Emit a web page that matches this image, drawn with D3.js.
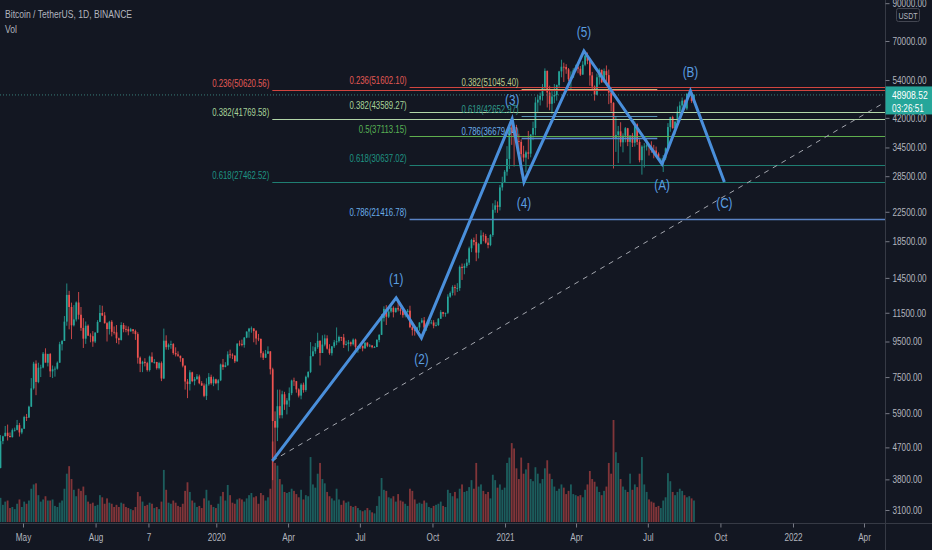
<!DOCTYPE html>
<html><head><meta charset="utf-8">
<script src="https://cdnjs.cloudflare.com/ajax/libs/d3/7.8.5/d3.min.js"></script>
<style>
html,body{margin:0;padding:0;background:#131722;overflow:hidden}
svg{display:block}
text{font-family:"Liberation Sans",Arial,sans-serif}
</style></head><body>
<svg id="c" width="932" height="550"></svg>
<script>
// ---------- DATA ----------
const startDate = "2019-04-01";   // first 3-day period
const stepDays = 3;
const firstOpen = 4100;
const closes = [
4900,5060,5180,5070,5030,5270,5280,5450,5190,5320,
5750,5730,6160,6960,8200,7260,7980,7990,8760,8250,8740,
7790,7900,7930,8250,9330,9530,10840,12950,11950,10580,
11000,12310,11350,10400,9680,10550,9880,9840,9500,10080,
10820,11480,11300,10730,10320,10830,10130,10100,9700,9600,
10600,10320,10310,10160,10310,10180,9980,8530,8190,8300,
8230,7860,8590,8270,8290,7960,8230,7430,9550,9150,9300,
9340,8800,8720,8640,8500,8090,7280,7160,7740,7300,
7400,7530,7200,7090,6620,7150,7510,7200,7390,7200,
7340,8150,8020,8110,8720,8700,8650,8330,9370,9350,
9290,9750,10150,10350,10360,10180,9690,9660,8790,8530,
8760,8900,7900,5600,5360,6180,5820,6690,6250,6420,
6740,7330,7300,6910,6630,7130,6880,7510,7760,8620,
8900,9150,9540,8800,9310,9700,9060,8790,9200,9450,9520,
9790,9760,9300,9340,9450,9330,9620,9170,9190,9230,
9080,9430,9240,9250,9150,9160,9600,9930,11100,11800,
11200,11600,11880,11550,11860,11760,11650,11320,11550,11660,
10450,10250,10220,10430,10780,10930,10420,10730,10770,10780,
10550,10600,11050,11550,11420,11500,12800,13120,13650,13550,13550,
15600,15480,15700,16050,17650,18650,18400,17150,18180,19220,
19150,18330,18040,19280,22800,23480,23240,26450,27380,29370,
31970,39400,38150,37350,36000,35800,33000,32250,33400,33100,
37600,39250,46500,47400,48600,51550,57400,49700,46100,48400,
48900,52200,57200,59000,58900,58000,54300,55000,57600,58800,
58200,56000,59800,63500,61400,55700,51700,49000,55000,57800,
53200,57300,55800,49700,46400,36700,37500,38400,35700,37300,
39200,35800,37400,35600,40200,35800,31700,34700,34700,35000,
34700,33900,33800,33100,31800,31800,32100,34300,39500,42200,39200,
40900,43800,45600,47100,44700,49300,49500,47000,48908.52];
const highs = [
5100,5080,5420,5470,5190,5330,5360,5640,5530,5340,
5800,5870,6200,7450,8300,8380,8250,8140,8860,9080,8760,
8800,8100,8050,8320,9480,9600,11250,13970,13300,12300,
12100,12400,13200,11950,11100,10850,10640,10030,10180,10100,
10950,12100,12050,11550,10800,10900,10950,10500,10600,9750,
10800,10750,10560,10500,10400,10300,10280,10100,8600,8360,
8500,8300,8650,8840,8450,8300,8300,8320,10350,9900,9380,
9550,9400,9140,8900,8650,8500,8100,7400,7850,7770,
7500,7650,7620,7300,7190,7440,7700,7620,7520,7420,
7400,8200,8460,8280,8900,9000,8780,8670,9380,9560,
9620,9790,10160,10400,10500,10380,10250,9990,9700,8900,
8980,9200,8900,7980,5970,6900,6900,6850,6800,6520,
7000,7370,7470,7310,6960,7200,7230,7570,7800,9460,
9200,9400,10070,9580,9900,9950,9900,9330,9210,9600,10430,
9880,9800,9990,9550,9600,9500,9700,9680,9200,9300,
9250,9450,9450,9340,9280,9220,9650,9970,11400,12000,
12100,11800,12050,12000,11900,12490,11900,11700,11560,11790,
12050,10650,10430,10480,10800,11100,11180,10750,10800,10960,
10950,10800,11100,11700,11570,11500,13000,13250,13800,13850,14000,
15750,15950,15950,16450,17850,18800,18950,19400,18300,19900,
19600,19420,18900,19400,23800,24300,24100,26900,28400,29700,
34800,40000,41950,38200,40100,37800,36400,34900,33800,38500,
37700,40950,48200,48900,49700,52600,58350,57500,52000,50200,
52600,52400,57400,61800,60600,60000,58500,57200,58400,59800,
60100,59300,61200,63800,64850,62500,57000,52100,56400,58400,
57900,58300,59500,57900,51400,46600,42500,39800,40800,37900,
39500,39300,36800,38000,41000,40500,36400,35000,35500,36600,
35000,35950,35100,34700,33400,32200,32800,34500,40550,42300,42600,
41200,45300,46800,48100,47400,49400,50500,49900,49200];
const lows = [
4090,4800,5060,4920,5030,5020,5220,5260,5050,5130,
5320,5600,5720,6150,6900,6650,7200,7500,7950,8400,8050,
7500,7450,7520,7880,8250,8950,9530,10550,10300,9650,
10500,10850,11000,10200,9100,9350,9850,9450,9170,9400,
10050,10800,11250,10700,9500,9950,9830,9950,9400,9320,
9560,10100,10100,9900,10150,10000,9600,8200,7750,7750,
8050,7780,7780,8280,8200,7880,7890,7300,7400,9000,8990,
9050,8700,8600,8580,8300,8000,6900,6520,6860,7250,
7100,7370,7150,7080,6560,6440,7080,7130,7060,7150,
6870,7300,7870,8000,8090,8500,8450,8230,8300,9210,
9200,9120,9710,9740,10070,9450,9300,9520,8540,8400,
8510,8760,7630,3780,4440,4900,5700,5700,6030,5850,
6150,6650,7070,6760,6550,6470,6760,6800,7440,7700,
8600,8750,9050,8100,8800,9200,9000,8700,8650,9100,9270,
9430,9530,9100,9250,8900,9200,9250,9000,8820,9040,
8900,9050,9150,9150,9080,9100,9150,9450,9920,10850,
10600,11100,11500,11150,11500,11600,11350,11130,11150,11500,
10380,9880,9880,10200,10200,10720,10300,10200,10550,10650,
10370,10500,10530,11050,11200,11200,11400,12700,12900,12900,13200,
13300,14300,14850,15500,15800,17200,18000,16200,16500,18100,
18500,18200,17650,17900,19050,22350,22350,22700,25900,27300,
28600,29900,35100,30400,35500,34000,28850,31400,29250,31900,
32300,36200,37400,43700,45600,47100,50800,45000,44200,43000,
46300,47100,51400,55000,53300,56300,53600,50400,54700,57000,
56500,55500,55900,59200,60000,52000,50800,47100,48800,52400,
53000,53100,53400,46000,43800,30000,33500,31100,34700,33400,
35700,34800,31000,34600,34700,35100,31250,28800,30200,33800,
32700,33300,32100,32700,31600,31000,29300,31700,34000,38300,39100,
37600,39900,42800,43800,44400,44200,48300,46400,46400];
const volumes = [
45,32,38,40,26,28,24,34,42,28,
38,34,40,62,70,72,50,38,42,48,40,
40,42,30,28,36,40,62,90,104,80,
60,48,62,58,66,50,38,34,36,30,
32,50,46,34,44,36,34,28,32,28,
36,34,28,26,24,22,28,56,48,38,
30,32,36,34,26,28,24,38,97,60,36,
34,40,36,30,28,34,58,74,56,40,
36,28,30,26,44,60,40,32,28,26,
34,48,56,40,69,50,36,34,42,44,
42,38,44,50,54,46,48,34,54,50,
40,46,62,150,110,105,80,70,56,54,
56,62,58,52,46,60,42,50,48,121,
70,64,90,110,80,72,56,48,44,40,62,
42,32,40,36,38,30,28,30,26,22,
20,22,26,22,18,16,30,48,82,60,
58,46,44,48,38,52,40,38,34,30,
62,58,42,34,36,34,40,36,28,26,
30,32,34,38,30,28,60,54,48,56,44,
62,70,56,58,65,78,62,110,66,70,
58,52,56,44,88,78,64,70,60,64,
110,120,147,137,100,80,120,90,98,110,
80,76,102,90,72,80,100,115,90,80,
66,58,62,70,64,52,58,70,52,50,
48,50,46,60,70,95,80,75,66,56,
50,58,66,110,90,190,130,110,80,66,
60,56,90,60,70,65,90,121,70,56,
42,38,36,28,30,26,40,46,91,76,56,
50,56,62,58,50,46,48,44,40];

const priceTicks = [90000,70000,54000,42000,34500,28500,22500,18500,14500,11500,9500,7500,5900,4700,3800,3100];
const timeTickDates = ["2019-05-01","2019-08-01","2019-10-07","2020-01-01","2020-04-01","2020-07-01","2020-10-01","2021-01-01","2021-04-01","2021-07-01","2021-10-01","2022-01-01","2022-04-01"];
const timeTickLabels = ["May","Aug","7","2020","Apr","Jul","Oct","2021","Apr","Jul","Oct","2022","Apr"];

const waveDates  = ["2020-03-12","2020-08-16","2020-09-17","2021-01-10","2021-01-25","2021-04-11","2021-07-19","2021-08-24","2021-10-06"];
const wavePrices = [4296,12690,9730,41690,27430,65500,30900,50210,27430];
const waveLabels = ["","(1)","(2)","(3)","(4)","(5)","(A)","(B)","(C)"];

const trendDates  = ["2020-03-12","2022-04-26"];
const trendPrices = [4296,46370];

const fibARatios = [0.236,0.382,0.618];
const fibAPrices = [50620.56,41769.58,27462.52];
const fibAStart = "2020-03-12";
const fibBRatios = [0.236,0.382,0.5,0.618,0.786];
const fibBPrices = [51602.10,43589.27,37113.15,30637.02,21416.78];
const fibBStart = "2020-09-02";
const fibCRatios = [0.382,0.618,0.786];
const fibCPrices = [51045.40,42652.97,36679.04];
const fibCStart = "2021-01-22", fibCEnd = "2021-07-13";

const lastPrice = 48908.52, countdown = "03:26:51";
const title = "Bitcoin / TetherUS, 1D, BINANCE";

// ---------- CHART ----------
const W = 932, H = 550, plotR = 885.5, plotB = 523.5;
const SX = 0.78; // horizontal condensing of text
const svg = d3.select("#c");
svg.append("rect").attr("width",W).attr("height",H).attr("fill","#131722");
const defs = svg.append("defs");
defs.append("clipPath").attr("id","plot").append("rect").attr("x",0).attr("y",0).attr("width",plotR).attr("height",plotB);

function nt(parent, px, py, str, size, fill, anchor){
  return parent.append("text")
    .attr("transform",`translate(${px},${py}) scale(${SX},1)`)
    .attr("text-anchor",anchor||"start").attr("font-size",size).attr("fill",fill).text(str);
}

const pd = s => new Date(s+"T00:00:00Z");
const x = d3.scaleUtc().domain([Date.UTC(2019,4,1),Date.UTC(2022,3,1)]).range([23,864]);
const y = d3.scaleLog().domain([70000,3100]).range([41,510]);
const v = d3.scaleLinear().domain([0,190]).range([522,420]);

const DAY = 86400000;
const t0 = pd(startDate).getTime();
const bars = closes.map((c,i)=>({
  t: new Date(t0 + (i*stepDays + stepDays/2)*DAY),
  o: i===0 ? firstOpen : closes[i-1], c, h: highs[i], l: lows[i], vol: volumes[i]
}));
const up = "#26a69a", dn = "#ef5350";
const g = svg.append("g").attr("clip-path","url(#plot)");

// volume
g.append("g").selectAll("rect").data(bars).join("rect")
  .attr("x",d=>x(d.t)-0.9).attr("width",1.8)
  .attr("y",d=>v(d.vol)).attr("height",d=>v(0)-v(d.vol))
  .attr("fill",d=>d.c>=d.o?up:dn).attr("opacity",0.5);

// candles
const cg = g.append("g");
cg.selectAll("line").data(bars).join("line")
  .attr("x1",d=>x(d.t)).attr("x2",d=>x(d.t))
  .attr("y1",d=>y(d.h)).attr("y2",d=>y(d.l))
  .attr("stroke",d=>d.c>=d.o?up:dn).attr("stroke-width",0.8);
cg.selectAll("rect").data(bars).join("rect")
  .attr("x",d=>x(d.t)-0.85).attr("width",1.7)
  .attr("y",d=>y(Math.max(d.o,d.c))).attr("height",d=>Math.max(0.8,y(Math.min(d.o,d.c))-y(Math.max(d.o,d.c))))
  .attr("fill",d=>d.c>=d.o?up:dn);

// price line
g.append("line").attr("x1",0).attr("x2",plotR).attr("y1",y(lastPrice)).attr("y2",y(lastPrice))
  .attr("stroke","#3f8f88").attr("stroke-opacity",0.85).attr("stroke-dasharray","1,2");

// fib levels
const lineCol = {0.236:"#d2453f",0.382:"#b2d6a8",0.5:"#5fae4e",0.618:"#1f7e72",0.786:"#5a82c4"};
const textCol = {0.236:"#e35a55",0.382:"#a8d49a",0.5:"#58b255",0.618:"#1f9482",0.786:"#6aaeea"};
const fg = g.append("g");
function fibSet(ratios, prices, start, end, lcol, tcol){
  const x0 = x(pd(start)), x1 = end ? x(pd(end)) : plotR;
  ratios.forEach((r,i)=>{
    const yy = Math.round(y(prices[i]))+0.5;
    fg.append("line").attr("x1",x0).attr("x2",x1).attr("y1",yy).attr("y2",yy)
      .attr("stroke",lcol?lcol[i]:lineCol[r]).attr("stroke-width",r===0.786?1.5:1);
    nt(fg, x0-3, yy-3.5, r+"("+prices[i].toFixed(2)+")", 10, tcol?tcol[i]:textCol[r], "end");
  });
}
fibSet(fibARatios,fibAPrices,fibAStart,null);
fibSet(fibBRatios,fibBPrices,fibBStart,null);
fibSet(fibCRatios,fibCPrices,fibCStart,fibCEnd,["#c9b27c","#5a94b4","#5a86d0"],["#bccb8c","#2f9a8a","#6aaeea"]);

// trend dashed
g.append("line")
  .attr("x1",x(pd(trendDates[0]))).attr("y1",y(trendPrices[0]))
  .attr("x2",x(pd(trendDates[1]))).attr("y2",y(trendPrices[1]))
  .attr("stroke","#a3a6ae").attr("stroke-width",1).attr("stroke-dasharray","5,5");

// waves
const wpts = waveDates.map((d,i)=>({t:pd(d),p:wavePrices[i],lab:waveLabels[i]}));
g.append("path").datum(wpts)
  .attr("d",d3.line().x(d=>x(d.t)).y(d=>y(d.p)))
  .attr("fill","none").attr("stroke","#4a8fdb").attr("stroke-width",3).attr("stroke-linejoin","miter");
const wl = g.append("g");
wpts.slice(1).forEach((d,i)=>{
  const isPeak = (i%2===0);
  nt(wl, x(d.t), isPeak ? y(d.p)-14 : y(d.p)+26, d.lab, 15, "#5a9de0", "middle");
});

// axes borders
svg.append("line").attr("x1",0).attr("x2",W).attr("y1",plotB).attr("y2",plotB).attr("stroke","#363a45");
svg.append("line").attr("x1",plotR).attr("x2",plotR).attr("y1",0).attr("y2",H).attr("stroke","#363a45");

const ya = svg.append("g").attr("transform",`translate(${plotR},0)`)
  .call(d3.axisRight(y).tickValues(priceTicks).tickFormat(d3.format(".2f")).tickSize(4).tickPadding(3));
ya.select(".domain").remove();
ya.selectAll("line").attr("stroke","#787b86");
ya.selectAll("text").attr("fill","#b2b5be").attr("font-size",10.5)
  .attr("x",7/SX).attr("transform",`scale(${SX},1)`)
  .style("font-family",'"Liberation Sans",Arial,sans-serif');

const xa = svg.append("g").attr("transform",`translate(0,${plotB})`)
  .call(d3.axisBottom(x).tickValues(timeTickDates.map(pd)).tickFormat((d,i)=>timeTickLabels[i]).tickSize(4).tickPadding(6));
xa.select(".domain").remove();
xa.selectAll("line").attr("stroke","#787b86");
xa.selectAll("text").attr("fill","#b2b5be").attr("font-size",10.5)
  .attr("transform",`scale(${SX},1)`)
  .style("font-family",'"Liberation Sans",Arial,sans-serif');

// last price box
const ly = y(lastPrice);
svg.append("rect").attr("x",plotR).attr("y",ly-8.5).attr("width",W-plotR).attr("height",28).attr("fill","#26a69a");
nt(svg, 892, ly+4, lastPrice.toFixed(2), 11, "#ffffff");
nt(svg, 892, ly+17, countdown, 10.5, "#ffffff");

// USDT badge
svg.append("rect").attr("x",896.5).attr("y",8.5).attr("width",23).attr("height",13).attr("rx",2)
  .attr("fill","#131722").attr("stroke","#434651");
nt(svg, 908, 18.5, "USDT", 9, "#b2b5be", "middle");

// header
nt(svg, 5, 18, title, 11, "#b2b5be");
nt(svg, 5, 33, "Vol", 11, "#b2b5be");
</script>
</body></html>
